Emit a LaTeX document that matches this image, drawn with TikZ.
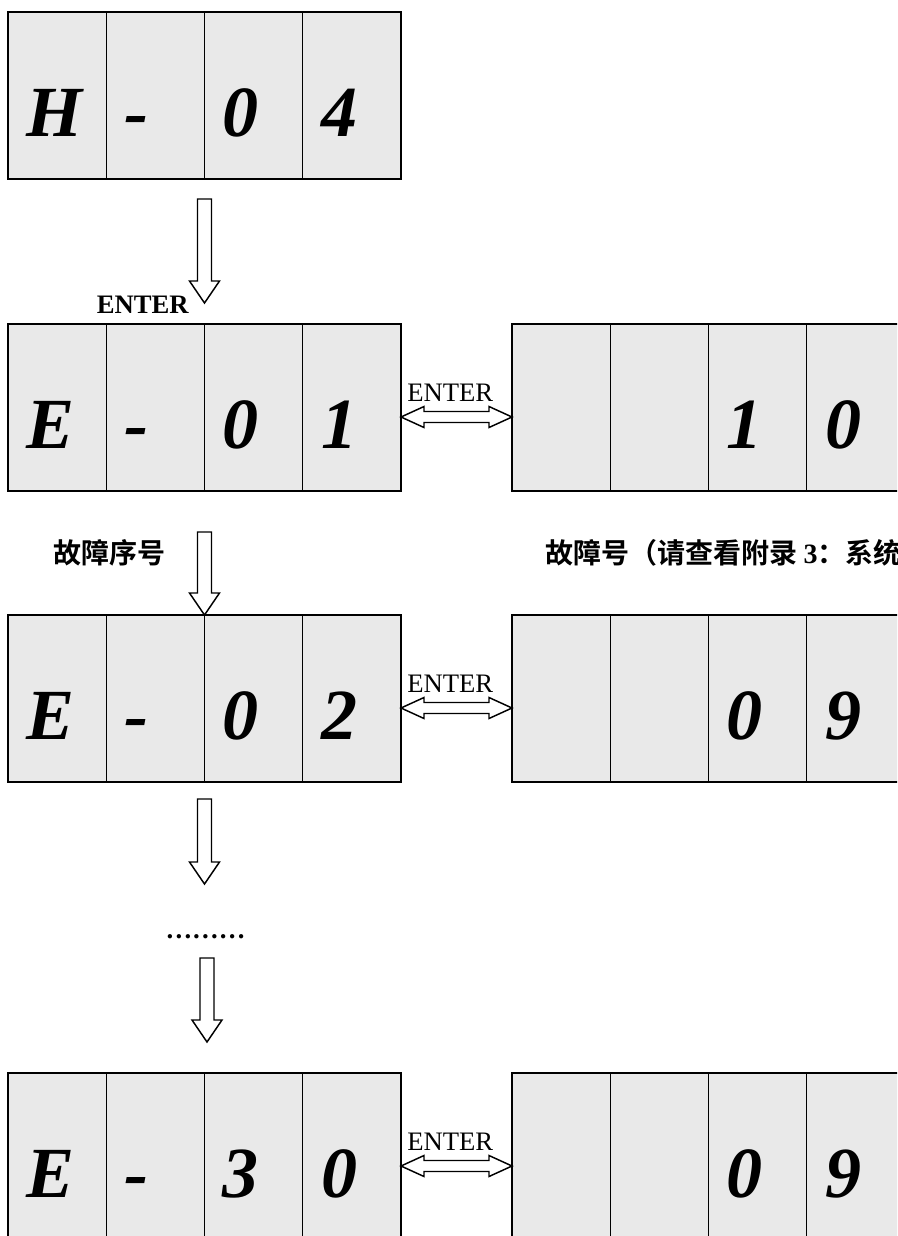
\documentclass[tikz,border=0pt]{standalone}
\usepackage{fontspec}
\setmainfont{Liberation Serif}
\newfontfamily\cjkb{Noto Sans CJK SC Bold}
\definecolor{cellgray}{RGB}{233,233,233}

\begin{document}
\begin{tikzpicture}[x=0.75pt,y=-0.75pt,
  cell/.style={draw,line width=1.1pt,fill=cellgray,inner sep=0pt,outer sep=0pt,
    minimum width=73.69pt,minimum height=125.25pt,anchor=north west},
  digit/.style={anchor=base west,inner sep=0pt,font=\fontsize{54}{60}\selectfont\bfseries\itshape},
  keylabel/.style={anchor=base west,inner sep=0pt,font=\fontsize{20}{24}\selectfont},
  cjklabel/.style={anchor=west,inner sep=0pt,font=\fontsize{21}{24}\selectfont\cjkb},
  hollow/.style={draw,line width=1.1pt,fill=white,line join=miter},
  pics/downarrow/.style={code={
    \draw[hollow] (0,0) -- (-15,-22) -- (-7,-22) -- (-7,-#1) -- (7,-#1) -- (7,-22) -- (15,-22) -- cycle;}},
  pics/bothways/.style={code={
    \draw[hollow] (0,0) -- (23,-10.5) -- (23,-5.5) -- (88,-5.5) -- (88,-10.5) -- (111,0)
      -- (88,10.5) -- (88,5.5) -- (23,5.5) -- (23,10.5) -- cycle;}}]
\useasboundingbox (0,0) rectangle (897,1236);
\clip (0,0) rectangle (897,1236);

% H-04
\foreach \txt [count=\i] in {H,-,0,4} {
  \node[cell] (disp-\i) at ({8+(\i-1)*98.25},12) {};
  \node[digit] at ([shift={(18,124)}]disp-\i.north west) {\txt};
}

% E-01 and fault code 10
\foreach \txt [count=\i] in {E,-,0,1} {
  \node[cell] (seq1-\i) at ({8+(\i-1)*98.25},324) {};
  \node[digit] at ([shift={(18,124)}]seq1-\i.north west) {\txt};
}
\foreach \txt [count=\i] in {{},{},1,0} {
  \node[cell] (code1-\i) at ({512+(\i-1)*98.25},324) {};
  \node[digit] at ([shift={(18,124)}]code1-\i.north west) {\txt};
}

% E-02 and fault code 09
\foreach \txt [count=\i] in {E,-,0,2} {
  \node[cell] (seq2-\i) at ({8+(\i-1)*98.25},615) {};
  \node[digit] at ([shift={(18,124)}]seq2-\i.north west) {\txt};
}
\foreach \txt [count=\i] in {{},{},0,9} {
  \node[cell] (code2-\i) at ({512+(\i-1)*98.25},615) {};
  \node[digit] at ([shift={(18,124)}]code2-\i.north west) {\txt};
}

% E-30 and fault code 09
\foreach \txt [count=\i] in {E,-,3,0} {
  \node[cell] (seq30-\i) at ({8+(\i-1)*98.25},1073) {};
  \node[digit] at ([shift={(18,124)}]seq30-\i.north west) {\txt};
}
\foreach \txt [count=\i] in {{},{},0,9} {
  \node[cell] (code30-\i) at ({512+(\i-1)*98.25},1073) {};
  \node[digit] at ([shift={(18,124)}]code30-\i.north west) {\txt};
}

% down arrows
\pic at ([shift={(0,-21)}]seq1-3.north west) {downarrow=104};
\node[keylabel,anchor=base east,font=\fontsize{20}{24}\selectfont\bfseries] (enter0) at (189,313) {ENTER};
\pic at (seq2-3.north west) {downarrow=83};
\pic at (204.5,884) {downarrow=85};
\node[anchor=base,inner sep=0pt,font=\fontsize{20}{24}\selectfont\bfseries] (dots) at (205.5,938) {………};
\pic at ([shift={(2.5,-31)}]seq30-3.north west) {downarrow=84};

% ENTER double arrows
\foreach \r in {1,2,30} {
  \pic at ([shift={(0,93)}]seq\r-4.north east) {bothways};
  \node[keylabel] (enter\r) at ([shift={(6,77)}]seq\r-4.north east) {ENTER};
}

% labels
\node[cjklabel] (seqlabel) at (53,553) {故障序号};
\node[cjklabel] (codelabel) at (545,553) {故障号（请查看附录~{\fontspec{Liberation Serif}\bfseries 3}：系统};
\end{tikzpicture}
\end{document}
